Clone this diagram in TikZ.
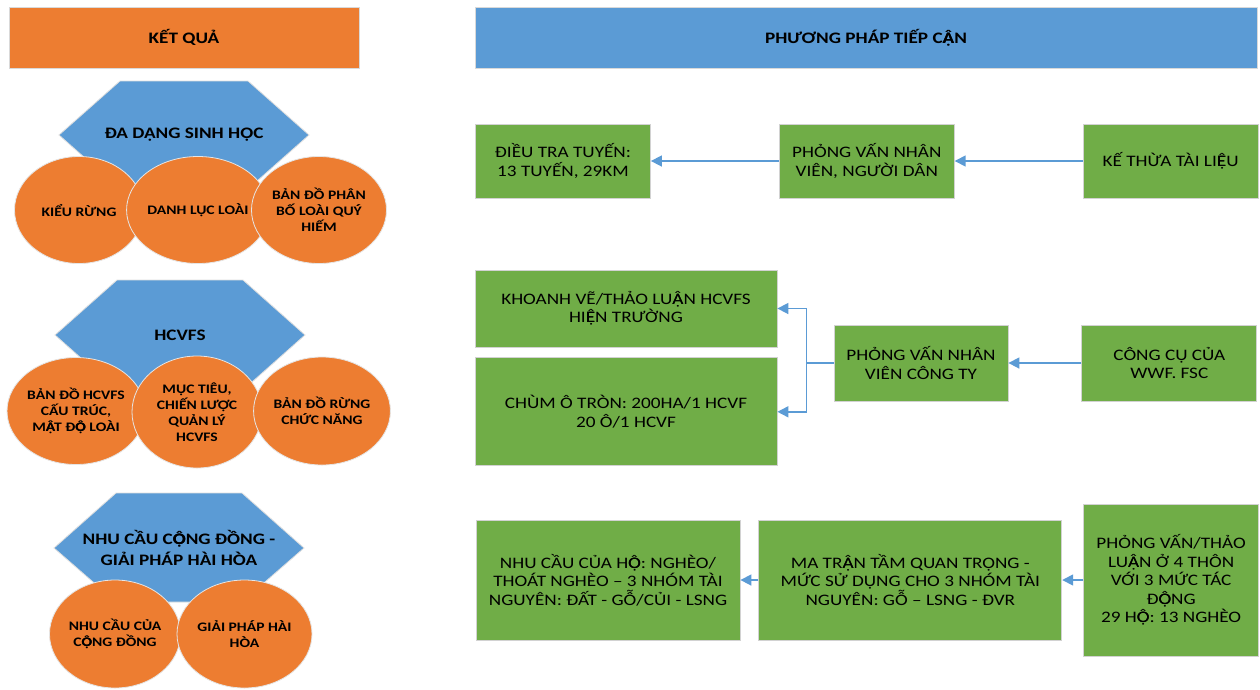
\documentclass[tikz,border=0pt]{standalone}
\usepackage{fontspec}
\setmainfont{Carlito}[FakeStretch=1.2]
\usetikzlibrary{positioning, shapes.geometric, arrows.meta}

\definecolor{offorange}{HTML}{ED7D31}
\definecolor{offblue}{HTML}{5B9BD5}
\definecolor{offgreen}{HTML}{70AD47}
% Carlito draws these letters without their circumflex
\newcommand{\VOcd}{\rlap{Ô}Ọ}
\newcommand{\VAcd}{\rlap{Â}Ạ}
\newcommand{\VEcd}{\rlap{Ê}Ẹ}

\begin{document}
\begin{tikzpicture}[x=1pt, y=-1pt,
	header/.style={draw=gray!30, line width=0.8pt, minimum height=61pt, font=\fontsize{16}{19}\selectfont\bfseries},
	hexa/.style={fill=offblue, draw=gray!25, line width=0.8pt},
	hextext/.style={align=center, font=\fontsize{16}{21}\selectfont\bfseries},
	oval/.style={ellipse, fill=offorange, draw=white!80!gray, line width=0.8pt, align=center, inner sep=0pt, font=\fontsize{13}{16}\selectfont\bfseries},
	greenbox/.style={rectangle, fill=offgreen, draw=gray!35, line width=0.8pt, align=center, font=\fontsize{16}{18.5}\selectfont},
	arr/.style={draw=offblue, line width=1.6pt, -{Triangle[length=11pt, width=11pt]}}]
			\path[use as bounding box, fill=white] (0,0) rectangle (1260,689);

			% column headings
			\node[header, fill=offorange, minimum width=350pt]  (ketqua)  at (184,37.5)  {KẾT QUẢ};
			\node[header, fill=offblue, minimum width=782pt]  (phuongphap)  at (866,37.5)  {PHƯƠNG PHÁP TIẾP C\VAcd N};

			% results, first group
			\coordinate (hexdd) at (184,135);
			\filldraw[hexa] (hexdd) ++(-125,0) -- ++(61,-54) -- ++(128,0) -- ++(61,54) -- ++(-61,54) -- ++(-128,0) -- cycle;
			\node[hextext]  (dadang)  at (hexdd)  {ĐA DẠNG SINH HỌC};
			\node[oval, minimum width=129pt, minimum height=107pt]  (kieurung)  at (79,210)  {KIỂU RỪNG};
			\node[oval, minimum width=130pt, minimum height=107pt]  (danhluc)  at (198,210)  {DANH LỤC LOÀI};
			\node[oval, minimum width=135pt, minimum height=107pt]  (bandophan)  at (319,210)  {BẢN ĐỒ PHÂN\\BỐ LOÀI QUÝ\\HIẾM};

			% results, second group
			\coordinate (hexhc) at (180,335);
			\filldraw[hexa] (hexhc) ++(-125,0) -- ++(62,-55) -- ++(126,0) -- ++(62,55) -- ++(-62,55) -- ++(-126,0) -- cycle;
			\node[hextext]  (hcvfs)  at (hexhc)  {HCVFS};
			\node[oval, minimum width=130pt, minimum height=107pt]  (bandohc)  at (76,411)  {BẢN ĐỒ HCVFS\\CẤU TRÚC,\\M\VAcd T Đ\VOcd\ LOÀI};
			\node[oval, minimum width=130pt, minimum height=112pt]  (muctieu)  at (197,412)  {MỤC TIÊU,\\CHIẾN LƯỢC\\QUẢN LÝ\\HCVFS};
			\node[oval, minimum width=131pt, minimum height=108pt]  (bandorung)  at (322,411)  {BẢN ĐỒ RỪNG\\CHỨC NĂNG};

			% results, third group
			\coordinate (hexnc) at (179,548);
			\filldraw[hexa] (hexnc) ++(-125,0) -- ++(62,-55) -- ++(126,0) -- ++(62,55) -- ++(-62,54) -- ++(-126,0) -- cycle;
			\node[hextext]  (nhucau)  at (hexnc)  {NHU CẦU C\VOcd NG ĐỒNG -\\GIẢI PHÁP HÀI HÒA};
			\node[oval, minimum width=131pt, minimum height=108pt]  (nccongdong)  at (115,634)  {NHU CẦU CỦA\\C\VOcd NG ĐỒNG};
			\node[oval, minimum width=135pt, minimum height=108pt]  (giaiphap)  at (244.5,634)  {GIẢI PHÁP HÀI\\HÒA};

			% approach, first row
			\node[greenbox, minimum width=175pt, minimum height=74pt]  (dieutra)  at (563,161)  {ĐIỀU TRA TUYẾN:\\13 TUYẾN, 29KM};
			\node[greenbox, minimum width=175pt, minimum height=74pt, right=128pt of dieutra]  (pvdan)  {PHỎNG VẤN NHÂN\\VIÊN, NGƯỜI DÂN};
			\node[greenbox, minimum width=175pt, minimum height=74pt, right=128pt of pvdan]  (kethua)  {KẾ THỪA TÀI LI\VEcd U};

			% approach, second row
			\node[greenbox, minimum width=302pt, minimum height=77pt]  (khoanhve)  at (626,308.5)  {KHOANH VẼ/THẢO LU\VAcd N HCVFS\\HI\VEcd N TRƯỜNG};
			\node[greenbox, minimum width=302pt, minimum height=108pt, below=10pt of khoanhve]  (chumo)  {CHÙM Ô TRÒN: 200HA/1 HCVF\\20 Ô/1 HCVF};
			\node[greenbox, minimum width=174pt, minimum height=76pt]  (pvcongty)  at (921,363)  {PHỎNG VẤN NHÂN\\VIÊN CÔNG TY};
			\node[greenbox, minimum width=175pt, minimum height=76pt, right=73pt of pvcongty]  (congcu)  {CÔNG CỤ CỦA\\WWF. FSC};

			% approach, third row
			\node[greenbox, minimum width=264pt, minimum height=120pt]  (nchoo)  at (608,580)  {NHU CẦU CỦA H\VOcd: NGHÈO/\\THOÁT NGHÈO – 3 NHÓM TÀI\\NGUYÊN: ĐẤT - GỖ/CỦI - LSNG};
			\node[greenbox, minimum width=303pt, minimum height=120pt, right=18pt of nchoo]  (matran)  {MA TR\VAcd N TẦM QUAN TRỌNG -\\MỨC SỬ DỤNG CHO 3 NHÓM TÀI\\NGUYÊN: GỖ – LSNG - ĐVR};
			\node[greenbox, minimum width=175pt, minimum height=152pt, right=21pt of matran]  (pvthon)  {PHỎNG VẤN/THẢO\\LU\VAcd N Ở 4 THÔN\\VỚI 3 MỨC TÁC\\Đ\VOcd NG\\29 H\VOcd: 13 NGHÈO};

			\draw[arr] (kethua) -- (pvdan) ;
			\draw[arr] (pvdan) -- (dieutra) ;
			\draw[arr] (congcu) -- (pvcongty) ;
			\draw[arr] (pvcongty.west) -- ++(-27,0) |- (khoanhve.east) ;
			\draw[arr] (pvcongty.west) -- ++(-27,0) |- (chumo.east) ;
			\draw[arr] (pvthon) -- (matran) ;
			\draw[arr] (matran) -- (nchoo) ;
		\end{tikzpicture}
\end{document}
